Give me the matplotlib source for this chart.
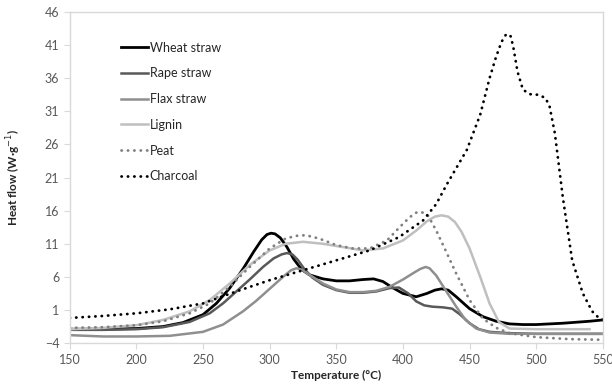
import numpy as np
import matplotlib.pyplot as plt

# values
# -----------------------------------
t_wheat = [150, 175, 200, 220, 235, 250, 260, 270, 280, 288, 294, 298, 301, 304, 308, 313, 318, 324, 330, 340, 350, 360, 370,
           378, 385, 392, 400, 410, 418, 424, 429, 434, 440, 450, 460, 470, 480, 490, 500, 520, 540, 550]
h_wheat = [-1.9, -1.9, -1.8, -1.5, -0.9, 0.3, 2.0, 4.3, 7.2, 9.8, 11.6, 12.4, 12.6, 12.5, 11.9, 10.5, 8.7, 7.1, 6.3, 5.7, 5.4, 5.4, 5.6,
           5.7, 5.3, 4.4, 3.5, 3.0, 3.5, 4.0, 4.2, 4.0, 3.0, 1.2, 0.0, -0.7, -1.1, -1.2, -1.2, -1.0, -0.7, -0.5]

t_rape = [150, 175, 200, 220, 240, 255, 265, 275, 285, 295, 303, 309, 313, 317, 321, 326, 332, 340, 350, 360, 370, 380,
          390, 397, 404, 410, 416, 422, 430, 437, 443, 450, 457, 465, 480, 500, 550]
h_rape = [-2.0, -2.0, -1.9, -1.6, -0.8, 0.5, 2.0, 3.8, 5.6, 7.5, 8.8, 9.4, 9.6, 9.4, 8.6, 7.2, 5.9, 4.8, 4.0, 3.6, 3.6, 3.8,
          4.3, 4.4, 3.5, 2.3, 1.7, 1.5, 1.4, 1.2, 0.3, -1.0, -1.9, -2.3, -2.5, -2.6, -2.6]

t_flax = [150, 175, 200, 225, 250, 265, 280, 290, 300, 310, 316, 320, 324, 330, 340, 350, 360, 370, 380, 390, 400,
          408, 413, 417, 420, 425, 432, 440, 447, 455, 465, 480, 500, 550]
h_flax = [-2.8, -3.0, -3.0, -2.9, -2.3, -1.2, 0.8, 2.4, 4.2, 6.0, 7.0, 7.3, 7.1, 6.3, 5.0, 4.1, 3.7, 3.7, 3.9, 4.5, 5.6,
          6.6, 7.2, 7.5, 7.3, 6.2, 4.0, 1.5, -0.5, -1.8, -2.4, -2.6, -2.6, -2.6]

t_lignin = [150, 175, 200, 220, 240, 255, 270, 285, 300, 312, 325, 340, 355, 370, 385, 400, 410, 418, 424, 429, 434, 439,
            444, 450, 458, 465, 472, 480, 500, 520, 540]
h_lignin = [-1.9, -1.7, -1.3, -0.5, 0.8, 2.5, 5.0, 7.8, 10.0, 11.0, 11.3, 11.0, 10.5, 10.0, 10.3, 11.5, 13.0, 14.4, 15.1, 15.3, 15.1, 14.3,
            12.8, 10.3, 6.0, 2.0, -0.8, -1.8, -1.9, -1.9, -1.9]

t_peat = [150, 175, 200, 220, 240, 255, 270, 285, 300, 312, 320, 327, 337, 350, 362, 375, 388, 398, 405, 410, 414, 419, 425,
          432, 440, 450, 460, 470, 480, 500, 525, 550]
h_peat = [-1.7, -1.6, -1.3, -0.7, 0.5, 2.0, 4.5, 7.5, 10.3, 11.8, 12.2, 12.3, 11.8, 10.8, 10.3, 10.3, 11.5, 13.6, 15.0, 15.7, 15.8, 15.2, 13.0,
          10.0, 6.5, 2.5, -0.3, -1.7, -2.5, -3.1, -3.4, -3.5]

t_char = [150, 175, 200, 225, 250, 275, 300, 325, 350, 375, 397, 415, 425, 433, 448, 458, 465, 470, 474, 477, 479, 481,
          483, 486, 490, 495, 502, 507, 510, 514, 520, 527, 535, 542, 547, 550]
h_char = [-0.2, 0.1, 0.5, 1.1, 2.0, 3.8, 5.5, 7.0, 8.5, 10.0, 12.0, 14.5, 17.0, 20.0, 25.2, 30.5, 36.0, 39.3, 41.5, 42.5, 42.7, 42.3,
          40.5, 37.0, 34.3, 33.6, 33.5, 33.0, 31.8, 27.7, 18.0, 8.5, 3.5, 0.8, -0.2, -0.5]

xticks = np.arange(150, 551, 50)
yticks = np.arange(-4, 47, 5)

plt.rcParams['font.family'] = ['Lato', 'DejaVu Sans']

fig = plt.figure(figsize=(6.12, 3.89), dpi=100)
ax = fig.add_axes([0.114, 0.118, 0.871, 0.851])

dot = (0, (0.1, 2.2))
ax.plot(t_wheat, h_wheat, color='black', lw=2.0, label='Wheat straw')
ax.plot(t_rape, h_rape, color='#595959', lw=1.8, label='Rape straw')
ax.plot(t_flax, h_flax, color='#8f8f8f', lw=1.8, label='Flax straw')
ax.plot(t_lignin, h_lignin, color='#bfbfbf', lw=1.8, label='Lignin')
ax.plot(t_peat, h_peat, color='#808080', lw=2.0, ls=dot, dash_capstyle='round', label='Peat')
ax.plot(t_char, h_char, color='black', lw=2.0, ls=dot, dash_capstyle='round', label='Charcoal')

ax.set_xlim(150, 550)
ax.set_ylim(-4, 46)
ax.set_xticks(xticks)
ax.set_yticks(yticks)
ax.tick_params(colors='#d9d9d9', labelcolor='#595959', labelsize=9, length=4, width=0.8)
for s in ax.spines.values():
    s.set_color('#d9d9d9')
    s.set_linewidth(1.0)

ax.set_xlabel('Temperature (°C)', fontsize=8.5, fontweight='bold', color='#262626', labelpad=3)
ax.set_ylabel('Heat flow (W·g$^{-1}$)', fontsize=8.5, fontweight='bold', color='#262626', labelpad=16)

leg = ax.legend(loc='upper left', bbox_to_anchor=(0.075, 0.945), frameon=False, fontsize=9,
                handlelength=2.2, handletextpad=0.1, labelspacing=1.1)
for txt in leg.get_texts():
    txt.set_color('#262626')

fig.savefig('out.png', dpi=100)
